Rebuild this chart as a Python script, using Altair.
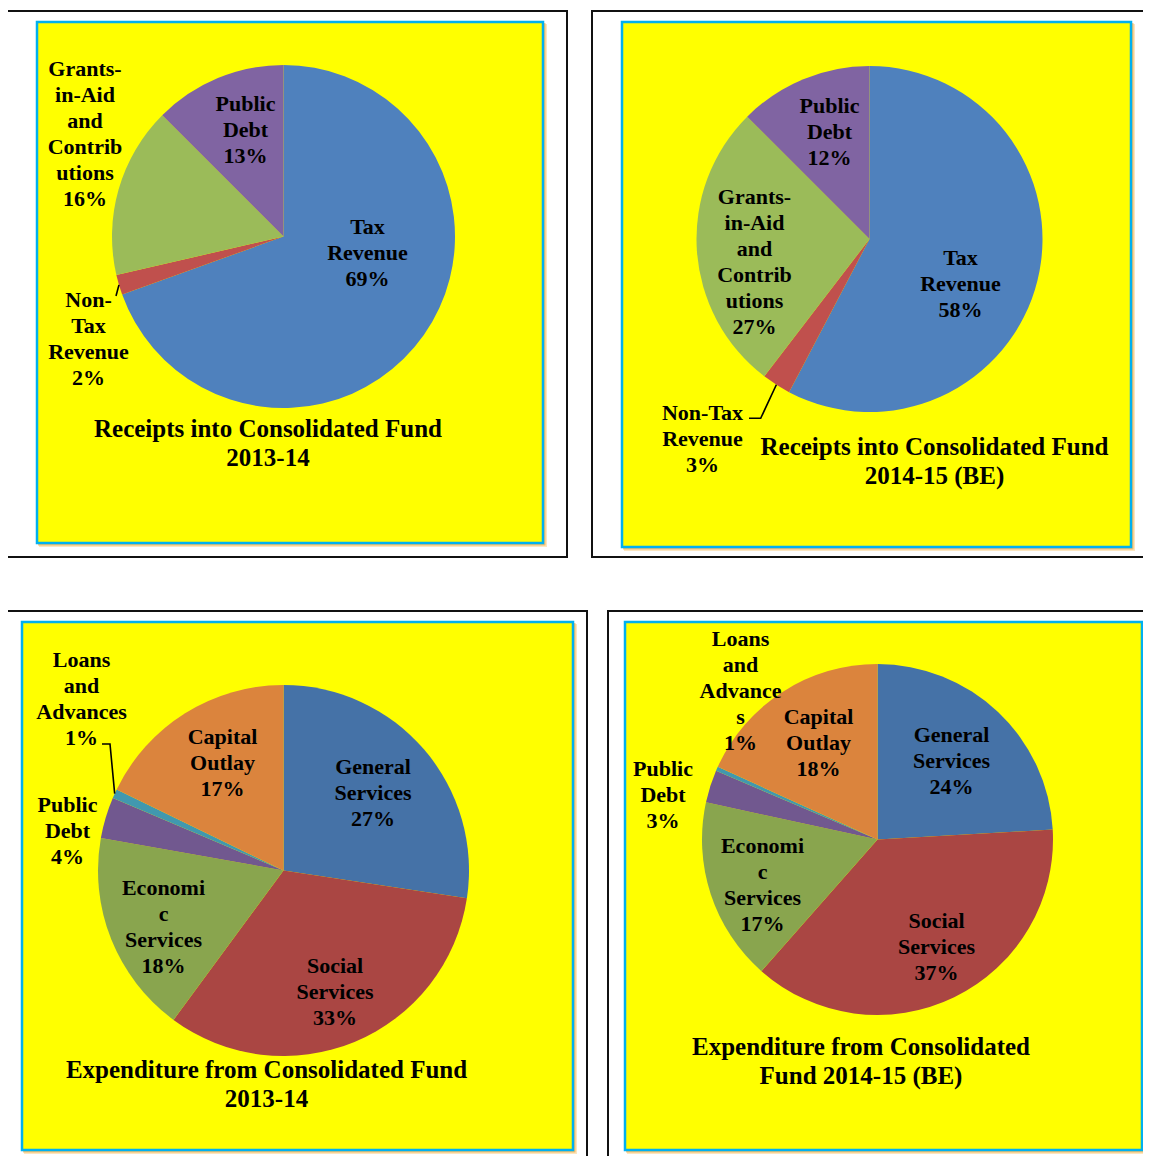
import math
import altair as alt
import pandas as pd

# ---------------- data ----------------
receipt_categories = ["Tax Revenue", "Non-Tax Revenue", "Grants-in-Aid and Contributions", "Public Debt"]
receipts_2013_14 = [69.5, 1.9, 16.1, 12.5]
receipts_2014_15 = [57.7, 2.7, 27.1, 12.5]
receipt_labels_2013_14 = ["Tax\nRevenue\n69%", "Non-\nTax\nRevenue\n2%",
                          "Grants-\nin-Aid\nand\nContrib\nutions\n16%", "Public\nDebt\n13%"]
receipt_labels_2014_15 = ["Tax\nRevenue\n58%", "Non-Tax\nRevenue\n3%",
                          "Grants-\nin-Aid\nand\nContrib\nutions\n27%", "Public\nDebt\n12%"]

expenditure_categories = ["General Services", "Social Services", "Economic Services",
                          "Public Debt", "Loans and Advances", "Capital Outlay"]
expenditure_2013_14 = [27.4, 32.7, 17.7, 3.6, 0.8, 17.8]
expenditure_2014_15 = [24.1, 37.4, 16.9, 3.0, 0.4, 18.2]
expenditure_labels_2013_14 = ["General\nServices\n27%", "Social\nServices\n33%",
                              "Economi\nc\nServices\n18%", "Public\nDebt\n4%",
                              "Loans\nand\nAdvances\n1%", "Capital\nOutlay\n17%"]
expenditure_labels_2014_15 = ["General\nServices\n24%", "Social\nServices\n37%",
                              "Economi\nc\nServices\n17%", "Public\nDebt\n3%",
                              "Loans\nand\nAdvance\ns\n1%", "Capital\nOutlay\n18%"]

chart_titles = ["Receipts into Consolidated Fund\n2013-14",
                "Receipts into Consolidated Fund\n2014-15 (BE)",
                "Expenditure from Consolidated Fund\n2013-14",
                "Expenditure from Consolidated\nFund 2014-15 (BE)"]

# ---------------- styles / layout ----------------
receipt_colors = ["#4F81BD", "#C0504D", "#9BBB59", "#8064A2"]
expenditure_colors = ["#4572A7", "#AA4643", "#89A54E", "#71588F", "#4198AF", "#DB843D"]
FONT = "Liberation Serif"
OFFX = 8   # page margin (x)
OFFY = 8   # page margin (y)
LABEL_LH = 26
TITLE_LH = 29

panels = [
    dict(cats=receipt_categories, values=receipts_2013_14, colors=receipt_colors,
         labels=receipt_labels_2013_14, title=chart_titles[0],
         outer=(7, 11, 567, 557), inner=(37, 22, 543, 543),
         center=(283.5, 236.5), R=171.5, title_pos=(268, 443.5),
         targets=[(367.5, 253), (88.5, 338.5), (85, 133.5), (245.5, 130)],
         leader=(1, [(116, 296)])),
    dict(cats=receipt_categories, values=receipts_2014_15, colors=receipt_colors,
         labels=receipt_labels_2014_15, title=chart_titles[1],
         outer=(592, 11, 1170, 557), inner=(622, 22, 1131, 547),
         center=(869.5, 239), R=173, title_pos=(934.5, 461.5),
         targets=[(960.5, 284), (702.5, 438.5), (754.5, 261.5), (829.5, 131.5)],
         leader=(1, [(749, 418.3), (760.7, 418.3)])),
    dict(cats=expenditure_categories, values=expenditure_2013_14, colors=expenditure_colors,
         labels=expenditure_labels_2013_14, title=chart_titles[2],
         outer=(7, 611, 587, 1170), inner=(22, 622, 573, 1150),
         center=(283.5, 870.5), R=185.5, title_pos=(266.5, 1084.5),
         targets=[(373, 792.5), (335, 992), (163.5, 926.5), (67.5, 831), (81.5, 699), (222.5, 763)],
         leader=(4, [(102, 744), (110, 744)])),
    dict(cats=expenditure_categories, values=expenditure_2014_15, colors=expenditure_colors,
         labels=expenditure_labels_2014_15, title=chart_titles[3],
         outer=(608, 611, 1170, 1170), inner=(625, 622, 1142, 1150),
         center=(877.5, 839.5), R=175.5, title_pos=(861, 1061.5),
         targets=[(951.5, 760.5), (936.5, 947), (762.5, 885), (663, 795), (740.5, 691), (818.5, 742.5)],
         leader=None),
]

theta_scale = alt.Scale(domain=[0, 100], range=[0, 2 * math.pi])
one_row = pd.DataFrame({"k": [0]})


def rect(x1, y1, x2, y2, **kw):
    return alt.Chart(one_row).mark_rect(**kw).encode(
        x=alt.value(x1 - OFFX), x2=alt.value(x2 - OFFX),
        y=alt.value(y1 - OFFY), y2=alt.value(y2 - OFFY))


def stacked(df):
    return (alt.Chart(df)
            .transform_window(end="sum(value)", sort=[alt.SortField("idx")], frame=[None, 0])
            .transform_calculate(start="datum.end - datum.value",
                                 mid="datum.end - datum.value / 2"))


frames, shadows, fills, arcs, leaders, texts = [], [], [], [], [], []

for p in panels:
    df = pd.DataFrame({"idx": list(range(len(p["cats"]))), "category": p["cats"],
                       "value": p["values"], "label": p["labels"]})
    cx, cy = p["center"]
    R = p["R"]
    ox1, oy1, ox2, oy2 = p["outer"]
    ix1, iy1, ix2, iy2 = p["inner"]

    frames.append(rect(ox1, oy1, ox2, oy2, fill="white", stroke="#111111", strokeWidth=2))
    shadows.append(rect(ix1 + 2, iy1 + 2, ix2 + 4, iy2 + 4, fill="#F5B74A", opacity=0.35))
    shadows.append(rect(ix1 + 1, iy1 + 1, ix2 + 2.5, iy2 + 2.5, fill="#F2A531", opacity=0.6))
    fills.append(rect(ix1, iy1, ix2, iy2, fill="#FFFF00", stroke="#00B0F0", strokeWidth=2.5))

    arcs.append(stacked(df).mark_arc(radius=R).encode(
        theta=alt.Theta("start:Q", scale=theta_scale),
        theta2="end:Q",
        x=alt.value(cx - OFFX), y=alt.value(cy - OFFY),
        color=alt.Color("category:N",
                        scale=alt.Scale(domain=p["cats"], range=p["colors"]),
                        legend=None),
    ))

    # label placement: anchored at each slice's mid-angle, nudged to the reference spot
    cum = 0.0
    mids = []
    for v in p["values"]:
        mids.append(cum + v / 2)
        cum += v
    for i, (tx, ty) in enumerate(p["targets"]):
        a = 2 * math.pi * mids[i] / 100
        ux, uy = math.sin(a), -math.cos(a)
        r = max(0.0, (tx - cx) * ux + (ty - cy) * uy)
        nlines = p["labels"][i].count("\n") + 1
        dx = tx - (cx + r * ux)
        dy = ty - (cy + r * uy) - (nlines - 1) * LABEL_LH / 2
        texts.append(
            stacked(df).transform_filter(alt.datum.idx == i)
            .mark_text(font=FONT, fontWeight="bold", fontSize=22, lineHeight=LABEL_LH,
                       lineBreak="\n", align="center", baseline="middle", color="black",
                       radius=r, dx=dx, dy=dy)
            .encode(theta=alt.Theta("mid:Q", scale=theta_scale),
                    x=alt.value(cx - OFFX), y=alt.value(cy - OFFY),
                    text="label:N"))

    if p["leader"] is not None:
        li, pts = p["leader"]
        a = 2 * math.pi * mids[li] / 100
        edge = (cx + R * math.sin(a), cy - R * math.cos(a))
        allpts = pts + [edge]
        ldf = pd.DataFrame({"o": list(range(len(allpts))),
                            "x": [q[0] - OFFX for q in allpts],
                            "y": [q[1] - OFFY for q in allpts]})
        leaders.append(alt.Chart(ldf).mark_line(color="black", strokeWidth=1.6).encode(
            x=alt.X("x:Q", scale=None, axis=None),
            y=alt.Y("y:Q", scale=None, axis=None),
            order="o:O"))

    tx, ty = p["title_pos"]
    nl = p["title"].count("\n") + 1
    texts.append(alt.Chart(one_row).mark_text(
        font=FONT, fontWeight="bold", fontSize=25, lineHeight=TITLE_LH, lineBreak="\n",
        align="center", baseline="middle", color="black",
        dy=-(nl - 1) * TITLE_LH / 2).encode(
        x=alt.value(tx - OFFX), y=alt.value(ty - OFFY), text=alt.value(p["title"])))

chart = alt.layer(*frames, *shadows, *fills, *arcs, *leaders, *texts).resolve_scale(
    color="independent"
).properties(
    width=1135, height=1148, padding=0,
    autosize=alt.AutoSizeParams(type="none"),
).configure_view(stroke=None)

chart.save("out.html", embed_options={"renderer": "svg", "actions": False})
